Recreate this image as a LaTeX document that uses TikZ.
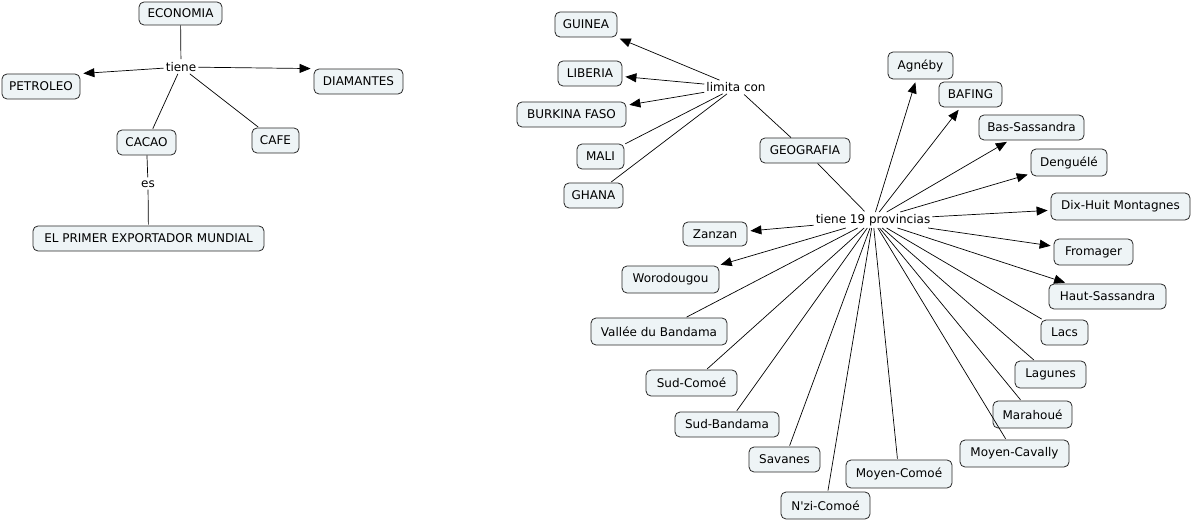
\documentclass[tikz,border=0pt]{standalone}
\usepackage{fontspec}
\newfontfamily\cmfont{DejaVu Sans}
\usetikzlibrary{arrows.meta}
\definecolor{nodefill}{RGB}{238,244,246}
\definecolor{nodeline}{RGB}{40,40,40}
\begin{document}
\begin{tikzpicture}[x=1pt,y=-1pt,
  cbox/.style={draw=nodeline, fill=nodefill, rounded corners=5pt, line width=0.8pt, inner sep=0pt, font=\cmfont\fontsize{12}{14}\selectfont},
  lbl/.style={inner sep=2pt, font=\cmfont\fontsize{12}{14}\selectfont},
  arr/.style={-{Triangle[length=11pt,width=9pt]}, shorten >=3pt, line width=0.7pt},
  ln/.style={line width=0.7pt, shorten >=1pt}]
\useasboundingbox (0,0) rectangle (1193,521);
\newcommand{\cnode}[6]{\node[cbox, minimum width=#4pt, minimum height=#5pt] (#1) at (#2,#3) {#6};}
% left map
\cnode{eco}{180.5}{13.5}{83}{23}{ECONOMIA}
\cnode{pet}{41}{86.5}{78}{25}{PETROLEO}
\cnode{dia}{358.5}{81.5}{89}{25}{DIAMANTES}
\cnode{cac}{146.5}{142.5}{59}{25}{CACAO}
\cnode{caf}{275.5}{140.5}{47}{25}{CAFE}
\cnode{epm}{148.5}{238.5}{231}{25}{EL PRIMER EXPORTADOR MUNDIAL}
\node[lbl] (tiene) at (181,67) {tiene};
\node[lbl] (es) at (148,184) {es};
\draw[ln] (eco) -- (tiene);
\draw[arr] (tiene) -- (pet.north east);
\draw[arr] (tiene) -- (dia.north west);
\draw[ln] (tiene) -- (cac);
\draw[ln] (tiene) -- (caf);
\draw[ln] (cac) -- (es);
\draw[ln] (es) -- (epm);
% right map
\cnode{gui}{586}{24.5}{62}{25}{GUINEA}
\cnode{lib}{590}{73.5}{64}{25}{LIBERIA}
\cnode{bur}{571.5}{114.5}{109}{25}{BURKINA FASO}
\cnode{mal}{600.5}{156.5}{47}{25}{MALI}
\cnode{gha}{593.5}{195.5}{59}{25}{GHANA}
\cnode{geo}{805}{150.5}{90}{25}{GEOGRAFIA}
\node[lbl] (lim) at (736,87) {limita con};
\node[lbl] (t19) at (873,220) {tiene 19 provincias};
\cnode{agn}{920.5}{65.5}{65}{27}{Agnéby}
\cnode{baf}{970.5}{94.5}{63}{25}{BAFING}
\cnode{bas}{1031.5}{127.5}{105}{25}{Bas-Sassandra}
\cnode{den}{1069}{162.5}{76}{27}{Denguélé}
\cnode{dix}{1120.5}{206.5}{139}{27}{Dix-Huit Montagnes}
\cnode{fro}{1093.5}{252}{79}{26}{Fromager}
\cnode{hau}{1107.5}{296.5}{117}{25}{Haut-Sassandra}
\cnode{lac}{1064.5}{332.5}{47}{25}{Lacs}
\cnode{lag}{1050.5}{374.5}{71}{27}{Lagunes}
\cnode{mar}{1032.5}{414.5}{79}{27}{Marahoué}
\cnode{mca}{1014.5}{453.5}{109}{27}{Moyen-Cavally}
\cnode{mco}{899}{474}{106}{28}{Moyen-Comoé}
\cnode{nzi}{825.5}{505.5}{89}{27}{N'zi-Comoé}
\cnode{sav}{784.5}{459.5}{71}{25}{Savanes}
\cnode{sba}{727}{424.5}{104}{25}{Sud-Bandama}
\cnode{sco}{691.5}{383}{91}{26}{Sud-Comoé}
\cnode{val}{659}{331.5}{136}{27}{Vallée du Bandama}
\cnode{wor}{670.5}{279.5}{97}{27}{Worodougou}
\cnode{zan}{715}{234}{64}{24}{Zanzan}
\draw[ln] (geo) -- (lim);
\draw[arr] (lim) -- (gui);
\draw[arr] (lim) -- (lib);
\draw[arr] (lim) -- (bur);
\draw[ln] (lim) -- (mal);
\draw[ln] (lim) -- (gha);
\draw[ln] (geo) -- (t19);
\foreach \n in {agn,baf,bas,den,dix,fro,hau,zan,wor} \draw[arr] (t19) -- (\n);
\foreach \n in {lac,lag,mar,mca,mco,nzi,sav,sba,sco,val} \draw[ln] (t19) -- (\n);
\end{tikzpicture}
\end{document}
